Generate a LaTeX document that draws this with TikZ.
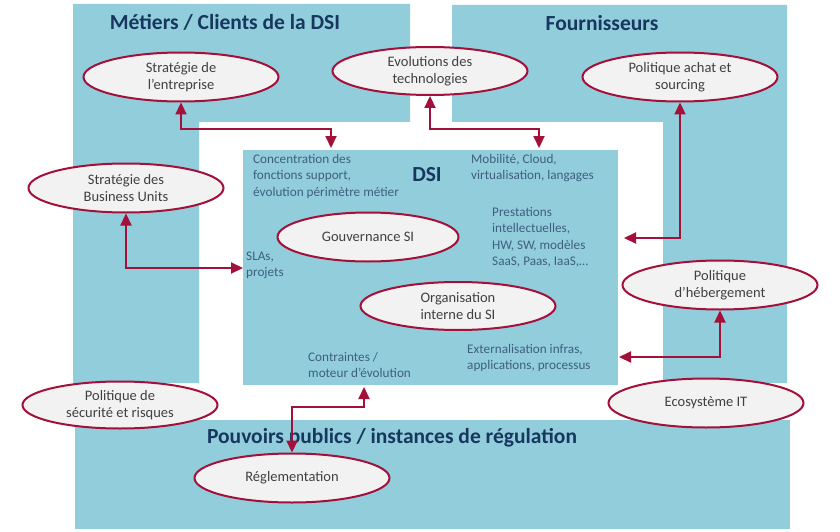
\documentclass[tikz,border=0pt]{standalone}
\usepackage{fontspec}
\setmainfont{Carlito}
\usetikzlibrary{shapes.geometric,arrows.meta}
\definecolor{bluebg}{RGB}{146,205,220}
\definecolor{arrred}{RGB}{163,16,58}
\definecolor{titlec}{RGB}{23,55,94}
\definecolor{dsitext}{RGB}{62,96,126}
\definecolor{elltext}{RGB}{64,64,64}
\definecolor{ellfill}{RGB}{242,242,242}
\begin{document}
\begin{tikzpicture}[x=1pt,y=-1pt,
  ell/.style={ellipse, draw=arrred, line width=2pt, fill=ellfill, minimum width=195pt, minimum height=49pt, inner sep=0pt, align=center, font=\fontsize{14.5}{17}\selectfont, text=elltext},
  ttl/.style={font=\fontsize{21.5}{24}\selectfont\bfseries, text=titlec, inner sep=0pt},
  dsit/.style={font=\fontsize{13.2}{16.5}\selectfont, text=dsitext, align=left, inner sep=0pt, anchor=west},
  arr/.style={draw=arrred, line width=2.2pt, {Triangle[length=12pt,width=11pt]}-{Triangle[length=12pt,width=11pt]}}]
\useasboundingbox (0,0) rectangle (840,532);
\fill[white] (0,0) rectangle (840,532);
% blue areas
\fill[bluebg] (73,4) -- (410,4) -- (410,122) -- (199,122) -- (199,383) -- (73,383) -- cycle;
\fill[bluebg] (452,5) -- (787,5) -- (787,383) -- (663,383) -- (663,122) -- (452,122) -- cycle;
\fill[bluebg] (75,420) rectangle (790,529);
\node[fill=bluebg, minimum width=375pt, minimum height=235pt, anchor=north west, inner sep=0pt] (dsi) at (243,150) {};
% titles
\node[ttl] (tmet) at (225,22) {Métiers / Clients de la DSI};
\node[ttl] (tfou) at (602,23) {Fournisseurs};
\node[ttl] (tpou) at (392,438) {Pouvoirs publics / instances de régulation};
\node[ttl] (tdsi) at (427,175) {DSI};
% DSI texts
\node[dsit] (conc) at (253,176) {Concentration des\\fonctions support,\\évolution périmètre métier};
\node[dsit] (mob) at (471,168) {Mobilité, Cloud,\\virtualisation, langages};
\node[dsit] (prest) at (492,237.5) {Prestations\\intellectuelles,\\HW, SW, modèles\\SaaS, Paas, IaaS,…};
\node[dsit] (sla) at (246,265.5) {SLAs,\\projets};
\node[dsit] (contr) at (308,365) {Contraintes /\\moteur d’évolution};
\node[dsit] (ext) at (467,358) {Externalisation infras,\\applications, processus};
% ellipses
\node[ell] (strat) at (181,77) {Stratégie de\\l’entreprise};
\node[ell, minimum height=48pt] (evol) at (430,71) {Evolutions des\\technologies};
\node[ell] (achat) at (680,77) {Politique achat et\\sourcing};
\node[ell] (bu) at (126,188) {Stratégie des\\Business Units};
\node[ell, minimum width=181pt] (gouv) at (368,237) {Gouvernance SI};
\node[ell, minimum height=48pt] (org) at (458,306) {Organisation\\interne du SI};
\node[ell] (heb) at (720,285) {Politique\\d’hébergement};
\node[ell] (eco) at (706,403) {Ecosystème IT};
\node[ell, minimum height=47pt] (secu) at (120,405) {Politique de\\sécurité et risques};
\node[ell] (regl) at (292,478) {Réglementation};
% connector coordinates
\coordinate (m1) at (331,129);
\coordinate (e1) at (331,148);
\coordinate (m2) at (539,129);
\coordinate (e2) at (539,148);
\coordinate (e3) at (624,238);
\coordinate (e4) at (243,268);
\coordinate (e5) at (619,357);
\coordinate (m6) at (364,407);
\coordinate (e6) at (364,387);
% connectors
\draw[arr] (strat.south) |- (m1) -- (e1);
\draw[arr] (evol.south) |- (m2) -- (e2);
\draw[arr] (achat.south) |- (e3);
\draw[arr] (bu.south) |- (e4);
\draw[arr] (heb.south) |- (e5);
\draw[arr] (regl.north) |- (m6) -- (e6);
\end{tikzpicture}
\end{document}
